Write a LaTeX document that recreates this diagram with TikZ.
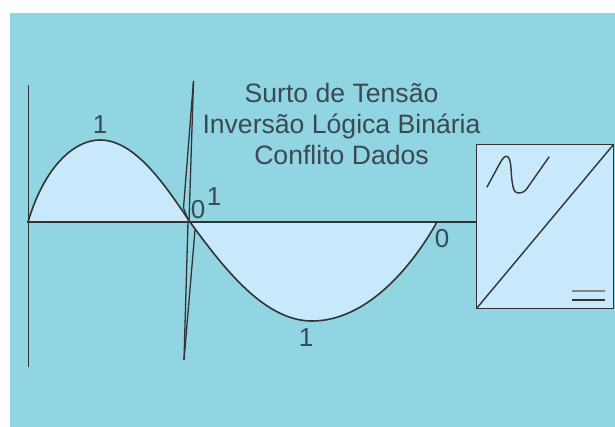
\documentclass[tikz,border=0pt]{standalone}
\usepackage{fontspec}
\setmainfont{Liberation Sans}
\definecolor{bgteal}{HTML}{91D5E3}
\definecolor{lightfill}{HTML}{C7E9FB}
\definecolor{ink}{HTML}{333333}
\definecolor{txt}{HTML}{3A4A52}
\tikzset{
  wave/.style={draw=ink,line width=1.6pt,fill=lightfill},
  axisline/.style={draw=ink,line width=1.4pt},
  spike/.style={draw=ink,line width=1.3pt},
  lbl/.style={text=txt,font=\fontsize{26}{30}\selectfont,inner sep=0pt},
  caption/.style={text=txt,font=\fontsize{26.6}{30.6}\selectfont,align=center,inner sep=0pt},
  device/.style={draw=ink,line width=1.7pt,fill=lightfill,minimum width=137pt,minimum height=164pt,inner sep=0pt,outer sep=0pt}
}
\begin{document}
\begin{tikzpicture}[x=1pt,y=-1pt]
\useasboundingbox (0,0) rectangle (615,427);
\fill[white] (0,0) rectangle (615,427);
\fill[bgteal] (10,13) rectangle (615,427);
% wave fills
\coordinate (o) at (28,222);
\coordinate (z1) at (190,222);
\coordinate (z2) at (437,222);
\path[wave] (o) .. controls (45,165) and (75,140) .. (100,140)
  .. controls (135,140) and (165,185) .. (z1) -- cycle;
\path[wave] (z1) .. controls (225,270) and (265,321) .. (312,321)
  .. controls (365,321) and (410,270) .. (z2) -- cycle;
% axis
\coordinate (axt) at (28.5,85);
\coordinate (axb) at (28.5,367);
\draw[axisline] (axt) -- (axb);
% device box
\node[device] (box) at (545,226.5) {};
\draw[axisline] (z2) -- (box.west |- z2);
\draw[axisline] (box.south west) -- (box.north east);
% spike
\coordinate (st) at (193.5,81);
\coordinate (sb) at (184,360);
\coordinate (sa) at (183.5,208);
\coordinate (sc) at (189,222);
\coordinate (sd) at (195,230);
\coordinate (se) at (188,222);
\draw[spike] (st) -- (sa) -- (sc);
\draw[spike] (st) -- (sc);
\draw[spike] (sb) -- (se);
\draw[spike] (sb) -- (sd);
% symbols in box
\coordinate (w1) at (487,187);
\coordinate (w2) at (549,157);
\draw[draw=ink,line width=1.4pt,line cap=round] (w1) -- (500,163)
  .. controls (506,152) and (510,155) .. (511,168)
  .. controls (512,188) and (514,193) .. (518,193)
  .. controls (522,193) and (525,192) .. (528,187) -- (w2);
\coordinate (d1) at (572,291);
\coordinate (d2) at (605,291);
\coordinate (d3) at (572,300);
\coordinate (d4) at (605,300);
\draw[draw=ink!60,line width=1.5pt] (d1) -- (d2);
\draw[draw=ink,line width=1.5pt] (d3) -- (d4);
% texts
\node[caption] (cap) at (341.5,124) {Surto de Tensão\\Inversão Lógica Binária\\Conflito Dados};
\node[lbl] (l1) at (100,125) {1};
\node[lbl] (l2) at (198,210) {0};
\node[lbl] (l3) at (214,197) {1};
\node[lbl] (l4) at (442,239) {0};
\node[lbl] (l5) at (306,338) {1};
\end{tikzpicture}
\end{document}
